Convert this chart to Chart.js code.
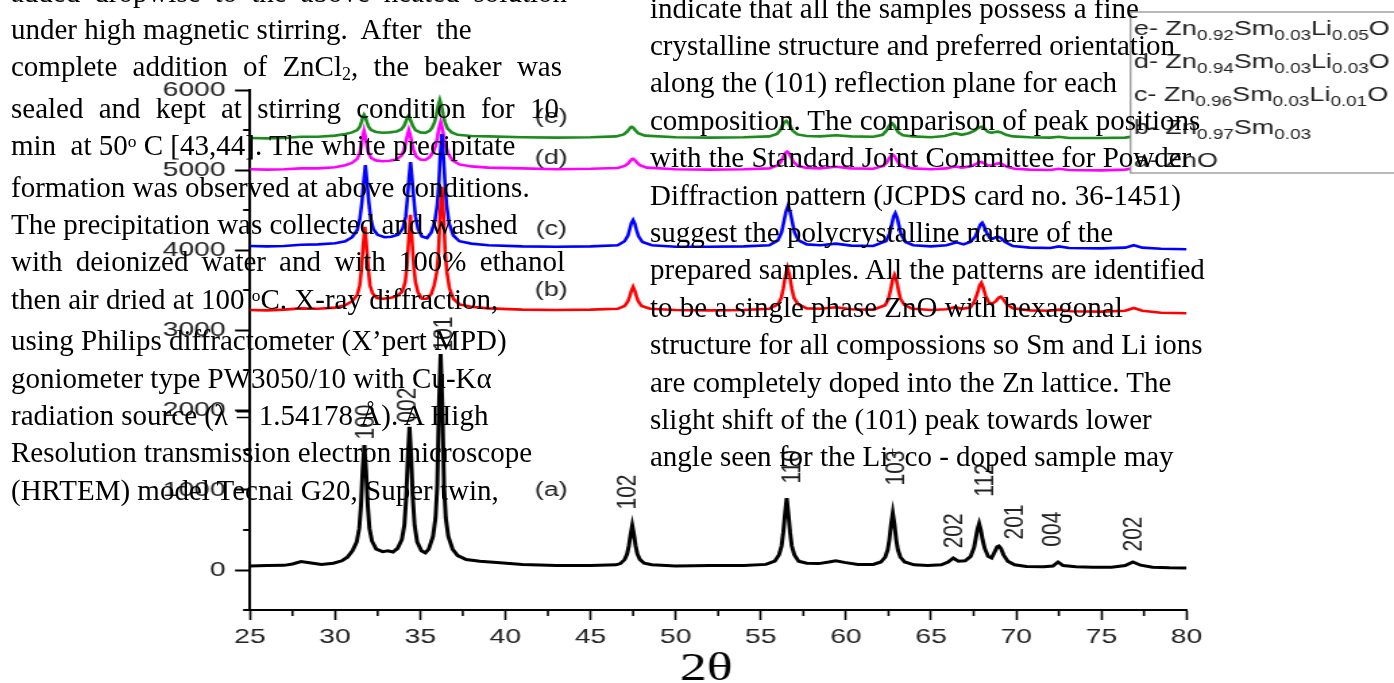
<!DOCTYPE html>
<html>
<head>
<meta charset="utf-8">
<title>XRD patterns of Sm / Li co-doped ZnO</title>
<script src="https://cdn.jsdelivr.net/npm/chart.js@4.4.1/dist/chart.umd.min.js"></script>
<style>
    html, body { margin: 0; padding: 0; background: #fff; overflow: hidden; }
    #page { position: relative; width: 1394px; height: 683px; overflow: hidden; background: #fff; }
    #stretch { position: absolute; left: 0; top: 0; transform-origin: 0 0; }
    .col { position: absolute; font-family: "Liberation Serif", "Times New Roman", serif; font-size: 29px; line-height: 37.4px; color: #000; }
    .col div { white-space: pre; }
    .col div.j { white-space: normal; text-align: justify; text-align-last: justify; }
    .sup { position: relative; top: -0.45em; font-size: 0.6em; }
    .sub { position: relative; top: 0.22em; font-size: 0.62em; }
</style>
</head>
<body>
<div id="page">
    <div id="stretch"><canvas id="xrd"></canvas></div>

    <div class="col" style="left:11px; top:-26.5px;">
        <div class="j" style="width:556px">added dropwise to the above heated solution</div>
        <div>under high magnetic stirring.  After  the</div>
        <div class="j" style="width:551px">complete addition of ZnCl<span class="sub">2</span>, the beaker was</div>
        <div class="j" style="width:548px">sealed and kept at stirring condition for 10</div>
        <div>min  at 50<span class="sup">o</span> C [43,44]. The white precipitate</div>
        <div>formation was observed at above conditions.</div>
        <div>The precipitation was collected and washed</div>
        <div class="j" style="width:554px">with deionized water and with 100% ethanol</div>
        <div>then air dried at 100 <span class="sup">o</span>C. X-ray diffraction,</div>
        <div>using Philips diffractometer (X’pert MPD)</div>
        <div>goniometer type PW3050/10 with Cu-Kα</div>
        <div>radiation source (λ = 1.54178 Å). A High</div>
        <div>Resolution transmission electron microscope</div>
        <div>(HRTEM) model Tecnai G20, Super twin,</div>
    </div>

    <div class="col" style="left:650px; top:-10.5px;">
        <div>indicate that all the samples possess a fine</div>
        <div>crystalline structure and preferred orientation</div>
        <div>along the (101) reflection plane for each</div>
        <div>composition. The comparison of peak positions</div>
        <div>with the Standard Joint Committee for Powder</div>
        <div>Diffraction pattern (JCPDS card no. 36-1451)</div>
        <div>suggest the polycrystalline nature of the</div>
        <div>prepared samples. All the patterns are identified</div>
        <div>to be a single phase ZnO with hexagonal</div>
        <div>structure for all compossions so Sm and Li ions</div>
        <div>are completely doped into the Zn lattice. The</div>
        <div>slight shift of the (101) peak towards lower</div>
        <div>angle seen for the Li<span class="sup" style="top:-0.5em;font-size:0.55em">+</span> co - doped sample may</div>
    </div>
</div>

<script>
// the figure was pasted into the document stretched sideways, so the chart is
// drawn narrower and scaled back out with css
const STRETCH = 1.35;
const PAGE_W = 1394;
const PAGE_H = 683;

// axes
const angleTicks = [25, 30, 35, 40, 45, 50, 55, 60, 65, 70, 75, 80];
const angleMinorTicks = [27.5, 32.5, 37.5, 42.5, 47.5, 52.5, 57.5, 62.5, 67.5, 72.5, 77.5];
const countTicks = [0, 1000, 2000, 3000, 4000, 5000, 6000];
const countMinorTicks = [-500, 500, 1500, 2500, 3500, 4500, 5500];

// (a) ZnO  [2theta, counts]
const patternA = [
    [25,50],[26,55],[27,58],[27.5,75],[28,105],[28.5,90],[29.2,70],[29.9,85],[30.4,115],
    [30.72,160],[31.02,240],[31.27,350],[31.42,520],[31.52,800],[31.62,1250],[31.72,1560],[31.82,1250],[31.92,800],[32.02,520],[32.17,360],[32.42,260],
    [32.8,230],[33.1,240],[33.4,225],[33.67,270],
    [33.92,380],[34.07,560],[34.17,880],[34.27,1400],[34.37,1790],[34.47,1400],[34.57,880],[34.67,560],[34.82,350],
    [35.07,240],[35.3,215],[35.5,260],
    [35.75,420],[35.9,650],[36.0,1050],[36.1,2050],[36.2,2700],[36.3,2050],[36.4,1050],[36.5,650],[36.65,420],[36.9,260],[37.2,180],
    [37.7,130],[38.5,110],[39.5,95],[41,70],[43,55],[45,55],[46.5,65],
    [46.75,80],[47.0,130],[47.15,200],[47.25,300],[47.35,440],[47.45,555],[47.55,440],[47.65,300],[47.75,200],[47.9,130],[48.15,85],[48.6,65],
    [50,50],[52,55],[54,55],[55.3,70],
    [55.82,110],[56.07,190],[56.22,300],[56.32,470],[56.42,700],[56.52,900],[56.62,700],[56.72,470],[56.82,300],[56.97,190],[57.22,110],[57.7,85],
    [58.4,80],[59.0,100],[59.4,115],[59.9,95],[60.7,70],[61.6,70],
    [62.05,100],[62.3,160],[62.45,250],[62.55,380],[62.65,570],[62.75,710],[62.85,570],[62.95,380],[63.05,250],[63.2,160],[63.45,100],[64.0,65],
    [64.8,55],[65.6,65],[66.0,100],[66.3,150],[66.6,110],[67.0,115],
    [67.32,170],[67.52,280],[67.62,390],[67.72,510],[67.82,580],[67.92,500],[68.02,380],[68.15,270],[68.35,170],[68.55,150],
    [68.72,220],[68.88,290],[68.98,300],[69.1,270],[69.25,190],[69.5,110],[69.9,65],
    [70.6,45],[71.6,40],[72.15,50],[72.45,100],[72.75,55],[73.5,40],[74.5,35],[75.6,35],[76.4,55],[76.85,100],[77.3,60],[78,35],[79,28],[80,25]
];

// (b) Zn0.97Sm0.03
const patternB = [
    [25,3250],[26,3245],[27,3255],[28,3270],[29,3265],[30,3280],[30.6,3310],
    [31.0,3360],[31.3,3440],[31.45,3560],[31.55,3760],[31.65,4050],[31.75,4290],[31.85,4050],[31.95,3760],[32.05,3560],[32.2,3460],[32.45,3400],
    [32.8,3390],[33.2,3400],[33.6,3420],
    [33.95,3480],[34.12,3600],[34.22,3800],[34.32,4120],[34.42,4440],[34.52,4120],[34.62,3800],[34.72,3600],[34.87,3470],
    [35.1,3390],[35.4,3390],[35.65,3450],
    [35.82,3560],[35.97,3720],[36.07,3950],[36.17,4450],[36.27,4790],[36.37,4450],[36.47,3950],[36.57,3720],[36.72,3520],[36.95,3390],[37.3,3320],
    [38,3290],[39,3270],[41,3255],[43,3250],[45,3255],[46.6,3265],
    [47.0,3300],[47.2,3360],[47.3,3420],[47.4,3490],[47.5,3540],[47.6,3490],[47.7,3420],[47.8,3360],[48.0,3300],[48.5,3265],
    [50,3250],[52,3245],[54,3250],[55.5,3265],
    [56.0,3320],[56.2,3400],[56.32,3520],[56.45,3680],[56.57,3775],[56.69,3680],[56.82,3520],[56.95,3400],[57.2,3320],[57.7,3270],
    [58.5,3265],[59.4,3285],[60.3,3260],[61.6,3255],
    [62.3,3310],[62.5,3390],[62.62,3500],[62.74,3630],[62.85,3690],[62.96,3630],[63.08,3500],[63.2,3390],[63.45,3310],[63.9,3265],
    [65,3250],[65.9,3260],[66.4,3285],[66.8,3265],[67.3,3280],
    [67.55,3360],[67.72,3460],[67.85,3560],[67.95,3590],[68.06,3530],[68.2,3430],[68.4,3340],[68.6,3330],
    [68.8,3360],[68.98,3405],[69.1,3415],[69.25,3380],[69.45,3320],[69.8,3270],
    [70.8,3245],[72,3240],[72.5,3255],[73.2,3235],[75,3230],[76.4,3240],[76.9,3275],[77.4,3240],[78.5,3215],[80,3210]
];

// (c) Zn0.96Sm0.03Li0.01O
const patternC = [
    [25,4050],[26,4045],[27,4050],[28,4065],[29,4070],[30,4085],[30.6,4110],
    [31.0,4160],[31.3,4250],[31.45,4380],[31.58,4600],[31.68,4850],[31.78,5060],[31.88,4850],[31.98,4600],[32.1,4380],[32.25,4260],[32.5,4190],
    [32.9,4160],[33.3,4165],[33.7,4190],
    [33.98,4270],[34.15,4420],[34.25,4650],[34.34,4900],[34.43,5100],[34.52,4900],[34.62,4650],[34.72,4420],[34.88,4260],
    [35.1,4170],[35.4,4150],[35.65,4220],
    [35.85,4350],[36.0,4560],[36.1,4850],[36.18,5200],[36.27,5450],[36.36,5200],[36.45,4850],[36.55,4560],[36.7,4330],[36.95,4180],[37.3,4110],
    [38,4080],[39,4060],[41,4045],[43,4040],[45,4045],[46.6,4060],
    [47.0,4110],[47.2,4180],[47.3,4260],[47.4,4340],[47.5,4375],[47.6,4330],[47.7,4250],[47.82,4170],[48.05,4100],[48.6,4060],
    [50,4040],[52,4040],[54,4045],[55.5,4060],
    [56.0,4120],[56.22,4220],[56.35,4350],[56.48,4480],[56.6,4550],[56.72,4480],[56.85,4350],[56.98,4220],[57.22,4120],[57.7,4070],
    [58.5,4060],[59.4,4080],[60.3,4055],[61.6,4050],
    [62.35,4110],[62.55,4200],[62.68,4310],[62.8,4420],[62.9,4460],[63.0,4410],[63.12,4300],[63.25,4190],[63.5,4100],[63.95,4060],
    [65,4045],[65.9,4060],[66.5,4095],[66.9,4070],[67.3,4100],
    [67.6,4170],[67.78,4260],[67.9,4320],[68.0,4340],[68.1,4300],[68.25,4220],[68.45,4150],[68.62,4140],
    [68.8,4160],[68.95,4165],[69.1,4150],[69.35,4100],[69.8,4050],
    [70.8,4030],[72,4025],[72.5,4045],[73.1,4025],[75,4020],[76.4,4030],[76.9,4060],[77.4,4030],[78.5,4015],[80,4010]
];

// (d) Zn0.94Sm0.03Li0.03O
const patternD = [
    [25,5010],[26,5005],[27,5010],[28,5020],[29,5020],[30,5035],[30.6,5060],
    [31.0,5090],[31.3,5140],[31.45,5210],[31.55,5310],[31.63,5420],[31.7,5490],[31.78,5420],[31.87,5310],[31.97,5210],[32.12,5150],[32.4,5120],
    [32.8,5110],[33.2,5115],[33.6,5130],
    [33.9,5180],[34.05,5250],[34.15,5340],[34.25,5440],[34.33,5500],[34.41,5440],[34.51,5340],[34.61,5250],[34.76,5170],
    [35.0,5130],[35.3,5125],[35.55,5160],
    [35.75,5220],[35.9,5300],[36.0,5400],[36.1,5520],[36.2,5600],[36.3,5520],[36.4,5400],[36.5,5300],[36.65,5200],[36.9,5120],[37.3,5070],
    [38,5045],[39,5030],[41,5020],[43,5010],[45,5015],[46.6,5025],
    [47.0,5050],[47.2,5080],[47.32,5110],[47.42,5135],[47.5,5140],[47.6,5125],[47.72,5095],[47.9,5060],[48.3,5030],
    [50,5010],[52,5005],[54,5010],[55.5,5020],
    [56.0,5060],[56.2,5110],[56.33,5170],[56.45,5215],[56.55,5230],[56.65,5210],[56.78,5160],[56.92,5100],[57.2,5050],[57.7,5025],
    [58.5,5020],[59.4,5040],[60.3,5020],[61.6,5015],
    [62.2,5050],[62.42,5100],[62.55,5150],[62.66,5180],[62.75,5190],[62.85,5170],[62.97,5130],[63.12,5080],[63.4,5040],[63.9,5020],
    [65,5010],[65.9,5020],[66.4,5045],[66.8,5030],[67.3,5045],
    [67.6,5070],[67.8,5095],[67.95,5100],[68.1,5085],[68.3,5060],[68.55,5055],
    [68.8,5075],[69.0,5085],[69.2,5070],[69.5,5035],[69.9,5015],
    [70.8,5005],[72,5000],[72.5,5015],[73.1,5000],[75,4995],[76.4,5005],[76.9,5025],[77.4,5005],[78.5,4995],[80,4990]
];

// (e) Zn0.92Sm0.03Li0.05O
const patternE = [
    [25,5400],[26,5395],[27,5400],[28,5415],[29,5415],[30,5430],[30.6,5450],
    [31.0,5470],[31.3,5500],[31.45,5540],[31.55,5600],[31.63,5660],[31.7,5690],[31.78,5660],[31.87,5600],[31.97,5540],[32.12,5500],[32.4,5475],
    [32.8,5465],[33.2,5470],[33.6,5480],
    [33.9,5510],[34.05,5550],[34.15,5600],[34.23,5650],[34.3,5675],[34.38,5650],[34.47,5600],[34.57,5550],[34.72,5500],
    [35.0,5470],[35.3,5465],[35.55,5490],
    [35.7,5530],[35.85,5600],[35.95,5690],[36.05,5800],[36.15,5875],[36.25,5800],[36.35,5690],[36.45,5600],[36.6,5520],[36.85,5470],[37.2,5440],
    [38,5425],[39,5420],[41,5410],[43,5405],[45,5410],[46.5,5420],
    [46.95,5445],[47.15,5480],[47.27,5510],[47.36,5535],[47.42,5540],[47.5,5530],[47.62,5500],[47.8,5460],[48.2,5430],
    [50,5410],[52,5405],[54,5410],[55.5,5420],
    [55.95,5450],[56.15,5500],[56.28,5560],[56.4,5600],[56.5,5615],[56.6,5595],[56.72,5550],[56.88,5490],[57.15,5445],[57.7,5425],
    [58.5,5420],[59.4,5435],[60.3,5420],[61.6,5415],
    [62.15,5440],[62.37,5490],[62.5,5540],[62.62,5575],[62.7,5585],[62.8,5565],[62.93,5520],[63.08,5470],[63.35,5435],[63.9,5420],
    [65,5410],[65.8,5425],[66.4,5460],[66.8,5440],[67.2,5460],
    [67.55,5490],[67.75,5525],[67.95,5540],[68.12,5520],[68.35,5475],[68.55,5465],
    [68.75,5475],[68.92,5480],[69.1,5470],[69.4,5440],[69.8,5420],
    [70.8,5410],[72,5405],[72.5,5415],[73.1,5400],[75,5400],[76.4,5405],[76.9,5420],[77.4,5405],[78.5,5400],[80,5395]
];

// (hkl) marks above the ZnO peaks
const peakNames = ["100", "002", "101", "102", "110", "103", "202", "112", "201", "004", "202"];
const peakNameAngle = [31.8, 34.3, 36.4, 47.2, 56.85, 62.97, 66.37, 68.19, 69.9, 72.18, 76.88];
const peakNameCount = [1850, 2060, 2950, 975, 1290, 1275, 490, 1125, 600, 510, 450];

// (a)..(e) next to each trace
const traceNames = ["(a)", "(b)", "(c)", "(d)", "(e)"];
const traceNameAngle = 42.7;
const traceNameCount = [1000, 3490, 4260, 5140, 5660];

// key, top to bottom; _{..} is a subscript
const keyLines = [
    "e- Zn_{0.92}Sm_{0.03}Li_{0.05}O",
    "d- Zn_{0.94}Sm_{0.03}Li_{0.03}O",
    "c- Zn_{0.96}Sm_{0.03}Li_{0.01}O",
    "b- Zn_{0.97}Sm_{0.03}",
    "a- ZnO"
];

const SANS = "'Liberation Sans', Arial, sans-serif";
const SERIF = "'Liberation Serif', 'Times New Roman', serif";

const canvasW = Math.ceil(PAGE_W / STRETCH);
const frame = { left: 250 / STRETCH, right: 1187 / STRETCH, top: 90, bottom: 610 };

function drawFormula(ctx, text, x, y) {
    text.split(/(_\{[^}]*\})/).filter(Boolean).forEach(part => {
        const sub = part.startsWith("_{");
        const str = sub ? part.slice(2, -1) : part;
        ctx.font = (sub ? 14 : 20) + "px " + SANS;
        ctx.fillText(str, x, sub ? y + 5 : y);
        x += ctx.measureText(str).width;
    });
}

const annotate = {
    id: "annotate",
    afterDatasetsDraw(chart) {
        const ctx = chart.ctx;
        const boxLeft = 1131 / STRETCH;
        ctx.save();
        // the key is boxed on white, so it hides the traces behind it
        ctx.fillStyle = "#fff";
        ctx.fillRect(boxLeft, 12, chart.width - boxLeft + 5, 161);
        ctx.strokeStyle = "#8a8a8a";
        ctx.lineWidth = 1.2;
        ctx.strokeRect(boxLeft, 12, chart.width - boxLeft + 5, 161);
        ctx.fillStyle = "#222";
        ctx.textAlign = "left";
        ctx.textBaseline = "alphabetic";
        keyLines.forEach((line, i) => drawFormula(ctx, line, boxLeft + 2.5, 35 + i * 33));
        ctx.restore();
    },
    afterDraw(chart) {
        const ctx = chart.ctx;
        const x = chart.scales.x;
        const y = chart.scales.y;
        const area = chart.chartArea;
        ctx.save();

        // minor ticks
        ctx.strokeStyle = "#000";
        ctx.lineWidth = 2;
        countMinorTicks.forEach(v => {
            const py = y.getPixelForValue(v);
            ctx.beginPath();
            ctx.moveTo(area.left - 5, py);
            ctx.lineTo(area.left, py);
            ctx.stroke();
        });
        ctx.lineWidth = 1.6;
        angleMinorTicks.forEach(v => {
            const px = x.getPixelForValue(v);
            ctx.beginPath();
            ctx.moveTo(px, area.bottom);
            ctx.lineTo(px, area.bottom + 6);
            ctx.stroke();
        });

        // trace names
        ctx.fillStyle = "#222";
        ctx.font = "20px " + SANS;
        ctx.textAlign = "center";
        ctx.textBaseline = "middle";
        traceNames.forEach((t, i) => {
            ctx.fillText(t, x.getPixelForValue(traceNameAngle), y.getPixelForValue(traceNameCount[i]));
        });

        // reflections, written upwards
        ctx.font = "21px " + SANS;
        peakNames.forEach((t, i) => {
            ctx.save();
            ctx.translate(x.getPixelForValue(peakNameAngle[i]), y.getPixelForValue(peakNameCount[i]));
            ctx.rotate(-Math.PI / 2);
            ctx.fillText(t, 0, 0);
            ctx.restore();
        });

        // axis title
        ctx.fillStyle = "#000";
        ctx.font = "40px " + SERIF;
        ctx.textBaseline = "alphabetic";
        ctx.fillText("2θ", x.getPixelForValue(51.8), 680);
        ctx.restore();
    }
};

const traces = [
    { pts: patternA, color: "#000000", width: 3 },
    { pts: patternB, color: "#ff0000", width: 2.6 },
    { pts: patternC, color: "#0000ff", width: 2.6 },
    { pts: patternD, color: "#ff00ff", width: 2.6 },
    { pts: patternE, color: "#1c8c1c", width: 2.6 }
];

const canvas = document.getElementById("xrd");
canvas.width = canvasW;
canvas.height = PAGE_H;
const wrap = document.getElementById("stretch");
wrap.style.width = canvasW + "px";
wrap.style.height = PAGE_H + "px";
wrap.style.transform = "scaleX(" + (PAGE_W / canvasW) + ")";

new Chart(canvas, {
    type: "line",
    data: {
        datasets: traces.map(t => ({
            data: t.pts.map(p => ({ x: p[0], y: p[1] })),
            borderColor: t.color,
            borderWidth: t.width,
            pointRadius: 0,
            tension: 0,
            fill: false
        }))
    },
    options: {
        responsive: false,
        animation: false,
        events: [],
        layout: { padding: { left: 0, top: frame.top, right: canvasW - frame.right, bottom: 0 } },
        plugins: { legend: { display: false }, tooltip: { enabled: false } },
        scales: {
            x: {
                type: "linear",
                min: 25,
                max: 80,
                afterBuildTicks: s => { s.ticks = angleTicks.map(v => ({ value: v })); },
                afterFit: s => { s.height = PAGE_H - frame.bottom; },
                grid: { drawOnChartArea: false, drawTicks: true, tickLength: 10, tickWidth: 1.6, tickColor: "#000" },
                border: { display: true, color: "#000", width: 2 },
                ticks: { color: "#222", font: { family: SANS, size: 21 }, padding: 5, maxRotation: 0, autoSkip: false,
                         callback: v => String(v) }
            },
            y: {
                type: "linear",
                min: -500,
                max: 6000,
                afterBuildTicks: s => { s.ticks = countTicks.map(v => ({ value: v })); },
                afterFit: s => { s.width = frame.left; },
                grid: { drawOnChartArea: false, drawTicks: true, tickLength: 11, tickWidth: 2, tickColor: "#000" },
                border: { display: true, color: "#000", width: 2 },
                ticks: { color: "#222", font: { family: SANS, size: 21 }, padding: 7, autoSkip: false,
                         callback: v => String(v) }
            }
        }
    },
    plugins: [annotate]
});
</script>
</body>
</html>
